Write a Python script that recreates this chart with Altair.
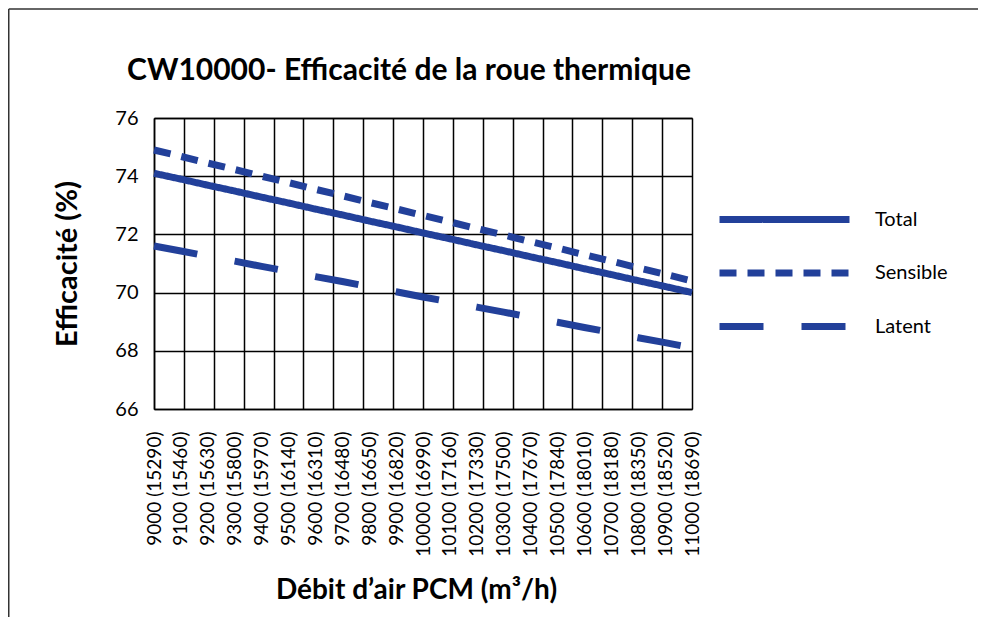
import json
import altair as alt
import pandas as pd

# ---- data ----
cfm = [9000, 9100, 9200, 9300, 9400, 9500, 9600, 9700, 9800, 9900, 10000,
       10100, 10200, 10300, 10400, 10500, 10600, 10700, 10800, 10900, 11000]
m3h = [15290, 15460, 15630, 15800, 15970, 16140, 16310, 16480, 16650, 16820, 16990,
       17160, 17330, 17500, 17670, 17840, 18010, 18180, 18350, 18520, 18690]
total = [74.10, 73.90, 73.69, 73.49, 73.28, 73.08, 72.87, 72.67, 72.46, 72.26, 72.05,
         71.85, 71.64, 71.44, 71.23, 71.03, 70.82, 70.62, 70.41, 70.21, 70.00]
sensible = [74.90, 74.68, 74.45, 74.23, 74.00, 73.78, 73.55, 73.33, 73.10, 72.88, 72.65,
            72.43, 72.20, 71.98, 71.75, 71.53, 71.30, 71.08, 70.85, 70.63, 70.40]
latent = [71.60, 71.43, 71.25, 71.08, 70.90, 70.73, 70.55, 70.38, 70.20, 70.03, 69.85,
          69.68, 69.50, 69.33, 69.15, 68.98, 68.80, 68.63, 68.45, 68.28, 68.10]
series_names = ["Total", "Sensible", "Latent"]
y_ticks = [66, 68, 70, 72, 74, 76]
chart_title = "CW10000- Efficacité de la roue thermique"

labels = [f"{a} ({b})" for a, b in zip(cfm, m3h)]
rows = []
for name, vals in zip(series_names, [total, sensible, latent]):
    for i, v in enumerate(vals):
        rows.append({"idx": i, "label": labels[i], "series": name, "value": v})
df = pd.DataFrame(rows)

n_cat = len(cfm)
n_grid = 19  # vertical grid lines in the reference
grid_vals = [k * (n_cat - 1) / (n_grid - 1) for k in range(n_grid)]

BLUE = "#22409a"
FONT = "Lato"
label_expr = json.dumps(labels) + "[datum.value]"

xscale = alt.Scale(domain=[0, n_cat - 1], nice=False, zero=False)
yscale = alt.Scale(domain=[66, 76], nice=False, zero=False)

lines = alt.Chart(df).mark_line(strokeWidth=7, color=BLUE, strokeCap="butt").encode(
    x=alt.X("idx:Q", scale=xscale,
            axis=alt.Axis(values=list(range(n_cat)), labelExpr=label_expr,
                          labelAngle=-90, labelFontSize=19, labelFont=FONT,
                          labelColor="black", labelPadding=22, labelOverlap=False,
                          ticks=False, grid=False, domain=True, domainColor="black",
                          domainWidth=1.5,
                          title="Débit d’air PCM (m³/h)", titleFont=FONT,
                          titleFontSize=28, titleFontWeight="bold", titleColor="black",
                          titlePadding=20, titleX=262)),
    y=alt.Y("value:Q", scale=yscale,
            axis=alt.Axis(values=y_ticks, labelFontSize=20, labelFont=FONT,
                          labelColor="black", labelPadding=16, ticks=False,
                          grid=True, gridColor="black", gridWidth=1.5, gridOpacity=1,
                          domain=True, domainColor="black", domainWidth=1.5,
                          title="Efficacité (%)", titleFont=FONT, titleFontSize=29,
                          titleFontWeight="bold", titleColor="black", titlePadding=32)),
    strokeDash=alt.StrokeDash(
        "series:N",
        scale=alt.Scale(domain=series_names, range=[[1, 0], [17, 11], [44, 38]]),
        legend=alt.Legend(orient="none", legendX=617, legendY=88, title=None,
                          symbolType="M-6.5,0L6.5,0", symbolSize=400,
                          symbolStrokeWidth=7, symbolStrokeColor=BLUE,
                          labelFontSize=20, labelFont=FONT, labelColor="black",
                          labelOffset=77, rowPadding=24.5, padding=0)),
)

grid = alt.Chart(df).mark_point(opacity=0).encode(
    x=alt.X("idx:Q", scale=xscale,
            axis=alt.Axis(orient="top", values=grid_vals, labels=False, ticks=False,
                          grid=True, gridColor="black", gridWidth=1.5, gridOpacity=1,
                          domain=True, domainColor="black", domainWidth=1.5,
                          title=None)),
    y=alt.Y("value:Q", scale=yscale),
)

one = alt.Data(values=[{"t": chart_title}])
title_mark = alt.Chart(one).mark_text(
    font=FONT, fontSize=30, fontWeight="bold", color="black",
    align="center", baseline="alphabetic"
).encode(text="t:N", x=alt.value(255), y=alt.value(-38))

frame_top = alt.Chart(one).mark_rule(color="#333333", strokeWidth=1.5).encode(
    x=alt.value(-145.25), x2=alt.value(830), y=alt.value(-109)
)
frame_left = alt.Chart(one).mark_rule(color="#333333", strokeWidth=1.5).encode(
    x=alt.value(-145.25), y=alt.value(-109), y2=alt.value(500)
)

chart = (
    alt.layer(grid, lines, title_mark, frame_top, frame_left)
    .resolve_axis(x="independent")
    .properties(
        width=538, height=291,
        autosize=alt.AutoSizeParams(type="none"),
        padding={"left": 146, "top": 110, "right": 286, "bottom": 208},
    )
    .configure_view(stroke=None)
    .configure(background="white")
)

chart.save("out.html", embed_options={"renderer": "svg", "actions": False})
